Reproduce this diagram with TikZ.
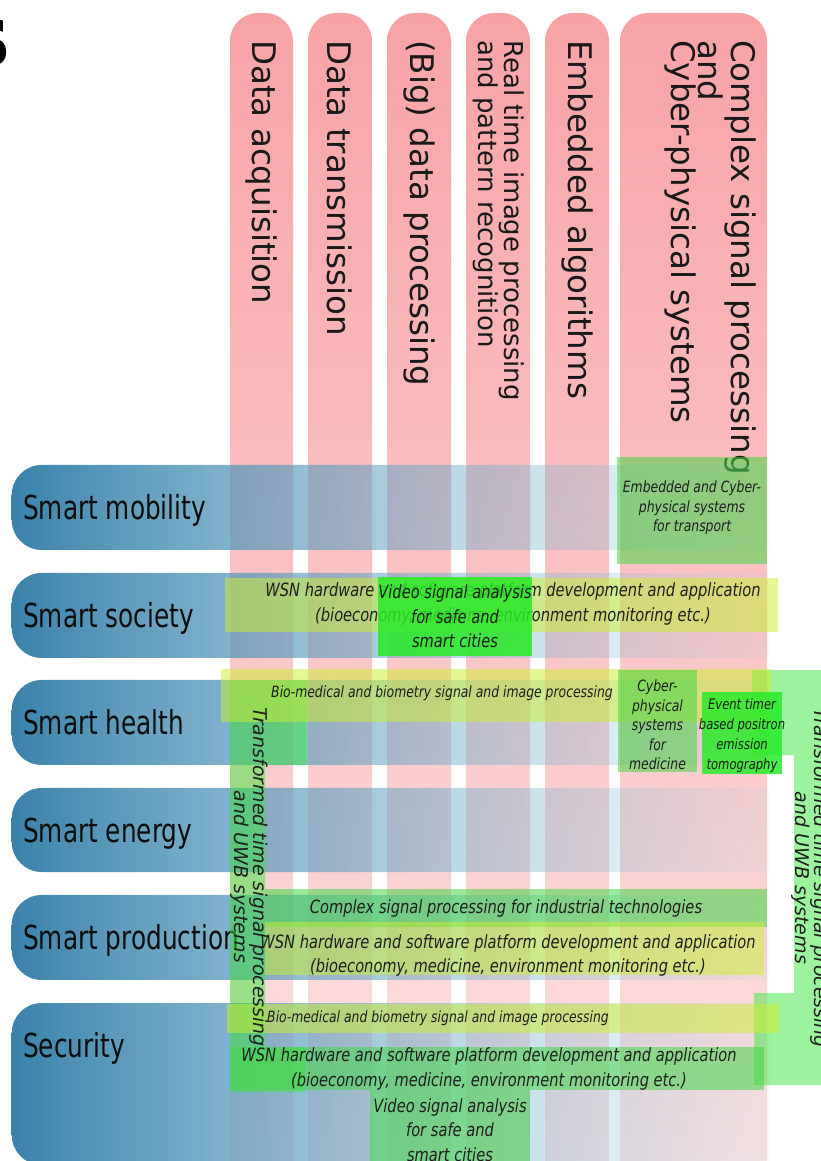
\documentclass[tikz,border=0pt]{standalone}
\usepackage{fontspec}
\setmainfont{DejaVu Sans}
\newfontfamily\rowfont[FakeStretch=0.75]{DejaVu Sans}
\newfontfamily\boxfont[FakeStretch=0.8]{DejaVu Sans}
\usepackage{tikz}
\usetikzlibrary{fadings}
\definecolor{ColumnPink}{RGB}{247,163,166}
\definecolor{ColumnPinkLight}{RGB}{253,228,228}
\definecolor{RowBlue}{RGB}{58,130,170}
\definecolor{RowBlueLight}{RGB}{140,200,225}
\definecolor{BoxYellow}{RGB}{205,240,45}
\definecolor{BoxGreen}{RGB}{70,215,70}
\definecolor{BoxBright}{RGB}{40,235,40}
\definecolor{StripGreen}{RGB}{60,230,60}
\definecolor{TextGrey}{RGB}{30,30,30}

\tikzfading[name=rowfade, left color=transparent!0, right color=transparent!92]

\tikzset{
  column/.style={top color=ColumnPink, bottom color=ColumnPinkLight, rounded corners=28},
  collabel/.style={rotate=-90, anchor=west, align=left, inner sep=0, text=black!90,
    font=\fontsize{32.5}{27.5}\selectfont},
  row/.style={left color=RowBlue, right color=RowBlueLight, path fading=rowfade},
  rowlabel/.style={anchor=base west, inner sep=0, text=black!95,
    font=\rowfont\fontsize{33}{33}\selectfont},
  ybox/.style={fill=BoxYellow, fill opacity=0.5},
  gbox/.style={fill=BoxGreen, fill opacity=0.55},
  bbox/.style={fill=BoxBright, fill opacity=0.85},
  strip/.style={fill=StripGreen, fill opacity=0.5},
  boxtext/.style={inner sep=0, align=center, text=TextGrey,
    font=\boxfont\itshape\fontsize{18.3}{24.5}\selectfont},
  smalltext/.style={font=\boxfont\itshape\fontsize{15.5}{19.5}\selectfont},
  tinytext/.style={font=\boxfont\itshape\fontsize{14.5}{20}\selectfont},
  striptext/.style={rotate=-90, inner sep=0, align=center, text=TextGrey,
    font=\itshape\fontsize{19}{19.5}\selectfont}
}

\begin{document}
\begin{tikzpicture}[x=1pt, y=-1pt]
  \path[use as bounding box, fill=white] (0,0) rectangle (821,1161);
  \node[anchor=base east, inner sep=0, font=\bfseries\fontsize{86}{86}\selectfont] (title) at (11,67) {s};

  % research fields
  \foreach \xa/\xb in {230/293, 308/372, 387/451, 466/530, 545/609, 620/767}
    \shade[column] (\xa,1200) -- (\xa,13) -- (\xb,13) -- (\xb,1200) -- cycle;

  \node[collabel] (acq) at (261.5,40) {Data acquisition};
  \node[collabel] (trans) at (340,40) {Data transmission};
  \node[collabel] (bigdata) at (419,40) {(Big) data processing};
  \node[collabel, font=\fontsize{26}{23}\selectfont] (realtime) at (498.5,40)
    {Real time image processing\\and pattern recognition};
  \node[collabel] (embalg) at (577,40) {Embedded algorithms};
  \node[collabel] (complex) at (710,40)
    {Complex signal processing\\and\\Cyber-physical systems};

  % application areas
  \foreach \ya/\yb in {465/550, 573/658, 680/765, 788/872, 895/980, 1003/1165}
    \shade[row] (770,\ya) [rounded corners=30] -- (12,\ya) -- (12,\yb) [sharp corners] -- (770,\yb) -- cycle;

  \node[rowlabel] (mobility) at (23,519) {Smart mobility};
  \node[rowlabel] (society) at (23,627) {Smart society};
  \node[rowlabel] (health) at (23,734) {Smart health};
  \node[rowlabel] (energy) at (23,842) {Smart energy};
  \node[rowlabel] (production) at (23,949) {Smart production};
  \node[rowlabel] (security) at (23,1057) {Security};

  % UWB strips on both sides
  \fill[strip] (230,680) -- (307,680) -- (307,765) -- (265,765) -- (265,1047)
    -- (305,1047) -- (305,1092) -- (230,1092) -- cycle;
  \fill[strip] (752,670) -- (850,670) -- (850,1085) -- (754,1085) -- (754,993)
    -- (794,993) -- (794,755) -- (752,755) -- cycle;

  % smart mobility
  \fill[gbox] (617,457) rectangle (767,564);
  \node[boxtext, smalltext] (transport) at (692,508)
    {Embedded and Cyber-\\physical systems\\for transport};

  % smart society
  \fill[ybox] (225,578) rectangle (778,632);
  \node[boxtext] (wsnsoc) at (513,604)
    {WSN hardware and software platform development and application\\(bioeconomy, medicine, environment monitoring etc.)};
  \fill[bbox] (378,577) rectangle (532,656);
  \node[boxtext] (videosoc) at (455,616.5) {Video signal analysis\\for safe and\\smart cities};

  % smart health
  \fill[ybox] (221,669) rectangle (771,722);
  \node[boxtext, smalltext] (biohealth) at (442,693)
    {Bio-medical and biometry signal and image processing};
  \fill[gbox] (618,670) rectangle (697,772);
  \node[boxtext, smalltext] (cpsmed) at (657.5,725) {Cyber-\\physical\\systems\\for\\medicine};
  \fill[bbox] (702,692) rectangle (782,774);
  \node[boxtext, tinytext] (pet) at (742,735) {Event timer\\based positron\\emission\\tomography};

  % smart production
  \fill[gbox] (265,889) rectangle (767,927);
  \node[boxtext] (industry) at (506,908)
    {Complex signal processing for industrial technologies};
  \fill[ybox] (265,922) rectangle (764,975);
  \node[boxtext] (wsnprod) at (508,955.5)
    {WSN hardware and software platform development and application\\(bioeconomy, medicine, environment monitoring etc.)};

  % security
  \fill[ybox] (227,1004) rectangle (779,1033);
  \node[boxtext, smalltext] (biosec) at (438,1018)
    {Bio-medical and biometry signal and image processing};
  \fill[gbox] (230,1047) rectangle (764,1090);
  \node[boxtext] (wsnsec) at (489,1069)
    {WSN hardware and software platform development and application\\(bioeconomy, medicine, environment monitoring etc.)};
  \fill[gbox] (370,1090) rectangle (530,1170);
  \node[boxtext] (videosec) at (450,1130) {Video signal analysis\\for safe and\\smart cities};

  \node[striptext] (uwbleft) at (249,877) {Transformed time signal processing\\and UWB systems};
  \node[striptext] (uwbright) at (810,878) {Transformed time signal processing\\and UWB systems};
\end{tikzpicture}
\end{document}
